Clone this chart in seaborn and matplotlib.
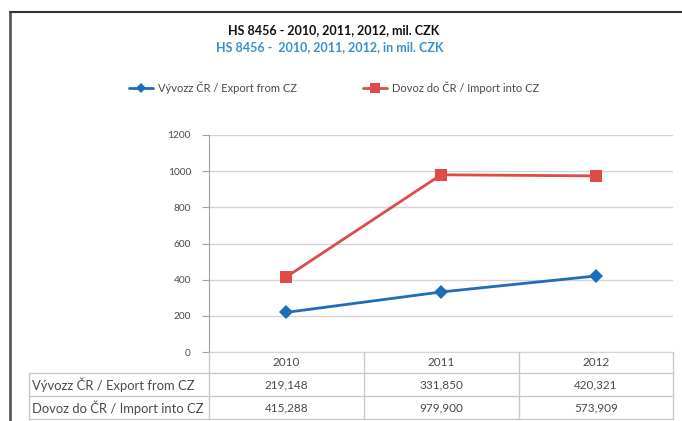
import matplotlib
matplotlib.use("Agg")
import matplotlib.pyplot as plt
from matplotlib.lines import Line2D
import seaborn as sns
import pandas as pd

# data
years = ["2010", "2011", "2012"]
export_vals = [219.148, 331.850, 420.321]
import_vals = [415.288, 979.900, 973.909]
export_labels = ["219,148", "331,850", "420,321"]
import_labels = ["415,288", "979,900", "573,909"]
series_names = ["Vývozz ČR / Export from CZ", "Dovoz do ČR / Import into CZ"]
row_names = ["Vývozz ČR / Export from CZ", "Dovoz do ČR / Import into CZ"]
yticks = [0, 200, 400, 600, 800, 1000, 1200]

blue = "#1f6cb8"
red = "#e04a48"
grid_c = "#d4d4d4"
text_c = "#4a4a4a"

sns.set_style("white")
plt.rcParams["font.family"] = ["Lato", "DejaVu Sans"]

W, H = 682, 421
fig = plt.figure(figsize=(W / 100, H / 100), dpi=100)

def fx(px):
    return px / W

def fy(py):
    return 1 - py / H

# plot area in pixels
left, right, top, bottom = 209, 673, 135, 352
ax = fig.add_axes([fx(left), fy(bottom), fx(right - left), (bottom - top) / H])

df = pd.DataFrame({
    "value": export_vals + import_vals,
    "series": [series_names[0]] * 3 + [series_names[1]] * 3,
})
df["x"] = list(range(3)) * 2

sns.lineplot(data=df, x="x", y="value", hue="series", style="series",
             palette=[blue, red], markers=["D", "s"], dashes=False,
             linewidth=2, markersize=7, markeredgewidth=0, ax=ax, legend=False)
ax.lines[1].set_markersize(9)

ax.set_xlim(-0.5, 2.5)
ax.set_ylim(0, 1200)
ax.set_yticks(yticks)
ax.set_yticklabels([str(t) for t in yticks], fontsize=7.3, color=text_c)
ax.set_xticks([])
ax.set_xlabel("")
ax.set_ylabel("")
ax.yaxis.grid(True, color=grid_c, linewidth=1)
ax.tick_params(axis="y", length=5, color="#a0a0a0", width=0.8, pad=8, left=True)
for s in ["top", "right"]:
    ax.spines[s].set_visible(False)
ax.spines["left"].set_color("#a0a0a0")
ax.spines["bottom"].set_color(grid_c)

# titles
fig.text(fx(334), fy(30), "HS 8456 - 2010, 2011, 2012, mil. CZK", ha="center", va="center",
         fontsize=9, fontweight="bold", color="#111111")
fig.text(fx(330), fy(47), "HS 8456 -  2010, 2011, 2012, in mil. CZK", ha="center", va="center",
         fontsize=9, fontweight="bold", color="#3b8fd3")

# legend
handles = [Line2D([], [], color=blue, marker="D", markersize=5, linewidth=2, markeredgewidth=0),
           Line2D([], [], color=red, marker="s", markersize=7, linewidth=2, markeredgewidth=0)]
fig.legend(handles, series_names, loc="center", bbox_to_anchor=(fx(334), fy(88)), ncol=2,
           frameon=False, fontsize=8, handlelength=2.1, columnspacing=6, handletextpad=0.45,
           labelcolor=text_c)

# outer frame (left and top)
fig.add_artist(Line2D([fx(9.5), fx(9.5)], [fy(12), fy(H)], color="#5a5a5a", linewidth=2))
fig.add_artist(Line2D([fx(9.5), fx(W)], [fy(12), fy(12)], color="#333333", linewidth=1.5))

# data table under the plot
line_kw = dict(color="#c8c8c8", linewidth=1)
col_edges = [209, 364, 519, 673]
row_edges = [352, 373, 396, 419]
label_left = 29
for xe in col_edges:
    fig.add_artist(Line2D([fx(xe), fx(xe)], [fy(row_edges[0]), fy(row_edges[-1])], **line_kw))
fig.add_artist(Line2D([fx(label_left), fx(label_left)], [fy(row_edges[1]), fy(row_edges[-1])], **line_kw))
for ye in row_edges[1:]:
    fig.add_artist(Line2D([fx(label_left), fx(col_edges[-1])], [fy(ye), fy(ye)], **line_kw))

col_centers = [(col_edges[i] + col_edges[i + 1]) / 2 for i in range(3)]
for i, yr in enumerate(years):
    fig.text(fx(col_centers[i]), fy((row_edges[0] + row_edges[1]) / 2), yr,
             ha="center", va="center", fontsize=8.5, color=text_c)
for r, (name, labels) in enumerate(zip(row_names, [export_labels, import_labels])):
    yc = fy((row_edges[r + 1] + row_edges[r + 2]) / 2)
    fig.text(fx(label_left + 3), yc, name, ha="left", va="center", fontsize=9.4, color=text_c)
    for i, lab in enumerate(labels):
        fig.text(fx(col_centers[i]), yc, lab, ha="center", va="center", fontsize=8.5, color=text_c)

fig.savefig("out.png", dpi=100)
